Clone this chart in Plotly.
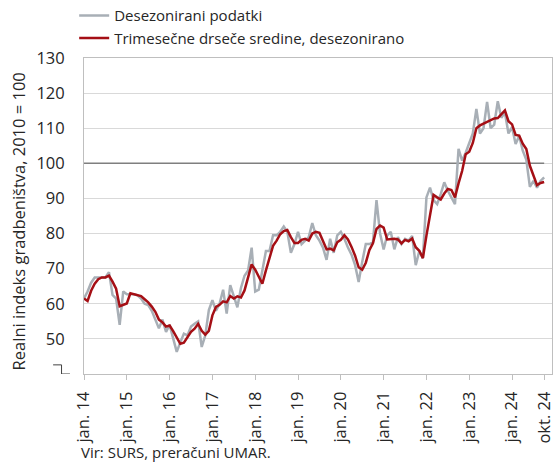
import plotly.graph_objects as go

# ---- data (monthly, jan 2014 .. okt 2024) ----
months = list(range(130))

desezonirano = [
    61.5, 63.5, 66.0, 67.5, 67.5, 67.5, 67.5, 69.0, 62.5, 61.5, 54.0, 63.5,   # 2014
    62.7, 62.7, 62.7, 62.4, 61.5, 60.0, 59.6, 58.0, 55.5, 53.0, 55.5, 52.0,   # 2015
    54.0, 50.5, 46.3, 49.0, 51.5, 51.0, 53.5, 54.3, 55.0, 47.7, 51.0, 58.2,   # 2016
    61.0, 58.0, 60.0, 64.0, 57.2, 65.3, 62.0, 59.0, 64.5, 68.0, 69.5, 76.0,   # 2017
    63.5, 64.0, 69.5, 75.0, 75.0, 79.5, 79.5, 80.5, 82.0, 80.5, 74.5, 77.0,   # 2018
    80.5, 77.0, 78.0, 79.0, 83.0, 79.5, 78.0, 76.0, 72.5, 78.5, 74.5, 79.5,   # 2019
    80.5, 78.5, 76.0, 74.0, 71.0, 66.2, 72.0, 77.0, 77.0, 77.5, 89.5, 80.0,   # 2020
    75.5, 79.5, 80.5, 75.5, 79.0, 77.0, 78.5, 78.0, 79.3, 71.0, 75.0, 73.0,   # 2021
    90.3, 93.1, 89.5, 88.4, 91.2, 94.6, 92.2, 90.3, 88.4, 104.1, 100.8, 103.0,  # 2022
    106.0, 108.5, 115.5, 108.5, 110.0, 117.5, 110.0, 111.0, 117.7, 113.0, 114.5, 108.5,  # 2023
    110.3, 105.5, 107.8, 103.6, 101.0, 93.3, 95.0, 93.1, 95.0, 96.0,           # 2024
]

drsece_sredine = [
    61.5, 60.8, 63.7, 65.7, 67.0, 67.5, 67.5, 68.0, 66.3, 64.3, 59.3, 59.7,
    60.1, 63.0, 62.7, 62.6, 62.2, 61.3, 60.4, 59.2, 57.7, 55.5, 54.7, 53.5,
    53.8, 52.2, 50.3, 48.6, 48.9, 50.5, 52.0, 52.9, 54.3, 52.3, 51.2, 52.3,
    56.7, 59.1, 59.7, 60.7, 60.4, 62.2, 61.5, 62.1, 61.8, 63.8, 67.3, 71.2,
    69.7, 67.8, 65.7, 69.5, 73.2, 76.5, 78.0, 79.8, 80.7, 81.0, 79.0, 77.3,
    77.3, 78.2, 78.5, 78.0, 80.0, 80.5, 80.2, 77.8, 75.5, 75.7, 75.2, 77.5,
    78.2, 79.5, 78.3, 76.2, 73.7, 70.4, 69.7, 71.7, 75.3, 77.2, 81.3, 82.3,
    81.7, 78.3, 78.5, 78.5, 78.3, 77.2, 78.2, 77.8, 78.6, 76.1, 75.1, 73.0,
    79.4, 85.5, 91.0, 90.3, 89.7, 91.4, 92.7, 92.4, 90.3, 94.3, 97.8, 102.6,
    103.3, 105.8, 110.0, 110.8, 111.3, 112.0, 112.5, 112.8, 112.9, 113.9, 115.1, 112.0,
    111.1, 108.1, 107.9, 105.6, 104.1, 99.3, 96.4, 93.8, 94.4, 94.7,
]

tick_months = [0, 12, 24, 36, 48, 60, 72, 84, 96, 108, 120, 129]
tick_labels = ["jan. 14", "jan. 15", "jan. 16", "jan. 17", "jan. 18", "jan. 19",
               "jan. 20", "jan. 21", "jan. 22", "jan. 23", "jan. 24", "okt. 24"]
y_ticks = [50, 60, 70, 80, 90, 100, 110, 120, 130]
reference_level = 100

FONT = "Open Sans"
TXT = "#262626"

fig = go.Figure()
fig.add_trace(go.Scatter(
    x=months, y=desezonirano, mode="lines", name="Desezonirani podatki",
    line=dict(color="#A8AFB6", width=2.5)))
fig.add_trace(go.Scatter(
    x=months, y=drsece_sredine, mode="lines",
    name="Trimesečne drseče sredine, desezonirano",
    line=dict(color="#A50F15", width=2.5)))

fig.add_shape(type="line", xref="x", yref="y", x0=months[0], x1=months[-1],
              y0=reference_level, y1=reference_level,
              line=dict(color="#7F7F7F", width=1.5), layer="between")

# axis-break glyph at the bottom of the y axis
for (xa, ya, xb, yb) in [(-0.066, 42.6, -0.048, 42.6), (-0.048, 42.6, -0.048, 40.0),
                         (-0.048, 40.0, -0.030, 40.0)]:
    fig.add_shape(type="line", xref="paper", yref="y", x0=xa, y0=ya, x1=xb, y1=yb,
                  line=dict(color="#404040", width=1))

fig.add_annotation(text="Vir: SURS, preračuni UMAR.", xref="paper", yref="paper",
                   x=-0.011, y=-0.247, xanchor="left", yanchor="middle",
                   showarrow=False, font=dict(family=FONT, size=15, color=TXT))

# y-axis title placed precisely
fig.add_annotation(text="Realni indeks gradbeništva, 2010 = 100", xref="paper", yref="paper",
                   x=-0.141, y=0.483, xanchor="center", yanchor="middle", textangle=-90,
                   showarrow=False, font=dict(family=FONT, size=16.5, color=TXT))

fig.update_layout(
    width=557, height=462,
    margin=dict(l=84, r=5, t=58, b=88, autoexpand=False),
    paper_bgcolor="white", plot_bgcolor="white",
    font=dict(family=FONT, size=15, color=TXT),
    showlegend=True,
    legend=dict(x=-0.021, y=1.186, xanchor="left", yanchor="top",
                font=dict(family=FONT, size=15, color=TXT),
                bgcolor="rgba(0,0,0,0)", tracegroupgap=0),
    xaxis=dict(range=[0, 131.2], tickmode="array", tickvals=tick_months,
               ticktext=tick_labels, tickangle=-90, ticks="outside", ticklen=5,
               tickcolor="#BFBFBF", showline=True, linecolor="#BFBFBF", linewidth=1,
               mirror=True, showgrid=False, zeroline=False, automargin=False,
               ticklabelstandoff=5,
               tickfont=dict(family=FONT, size=16.5, color=TXT)),
    yaxis=dict(range=[40, 130], tickmode="array", tickvals=y_ticks,
               showgrid=True, gridcolor="#D9D9D9", gridwidth=1,
               showline=True, linecolor="#BFBFBF", linewidth=1, mirror=True,
               zeroline=False, ticks="", ticklen=0, ticklabelstandoff=15,
               automargin=False,
               tickfont=dict(family=FONT, size=16.5, color=TXT)),
)

fig.write_html("out.html", config={"displayModeBar": False},
               post_script="document.body.style.margin='0px';")
